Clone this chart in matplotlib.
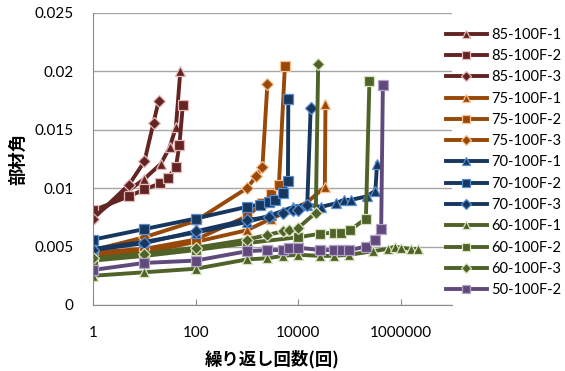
import matplotlib.pyplot as plt
from matplotlib.ticker import FixedLocator, FuncFormatter

# 試験体ごとの繰り返し回数と部材角
x_85_1 = [1, 10, 21, 31, 41, 50]
y_85_1 = [0.0076, 0.0108, 0.0121, 0.0135, 0.0152, 0.0200]
x_85_2 = [1, 5, 10, 20, 29, 41, 48, 56]
y_85_2 = [0.0081, 0.0093, 0.0099, 0.0104, 0.0109, 0.0118, 0.0137, 0.0171]
x_85_3 = [1, 5, 10, 15, 19]
y_85_3 = [0.0074, 0.0103, 0.0123, 0.0156, 0.0175]

x_75_1 = [1, 10, 100, 1000, 3000, 8000, 15000, 33000, 34000]
y_75_1 = [0.0043, 0.0045, 0.0054, 0.0064, 0.0074, 0.0082, 0.0088, 0.0101, 0.0172]
x_75_2 = [1, 10, 100, 1000, 2000, 3000, 4200, 5500]
y_75_2 = [0.0045, 0.0048, 0.0056, 0.0076, 0.0087, 0.0095, 0.0103, 0.0205]
x_75_3 = [1, 10, 100, 1000, 1500, 2000, 2500]
y_75_3 = [0.0047, 0.0058, 0.0072, 0.0100, 0.0110, 0.0118, 0.0189]

x_70_1 = [1, 10, 100, 1000, 3000, 8000, 15000, 28000, 54000, 77000, 107000, 220000, 320000, 345000]
y_70_1 = [0.0048, 0.0054, 0.0062, 0.0071, 0.0077, 0.0084, 0.0086, 0.0084, 0.0087, 0.0090, 0.0090, 0.0093, 0.0098, 0.0121]
x_70_2 = [1, 10, 100, 1000, 1800, 2700, 3600, 5100, 6300, 6400]
y_70_2 = [0.0056, 0.0065, 0.0074, 0.0084, 0.0086, 0.0088, 0.0090, 0.0096, 0.0106, 0.0176]
x_70_3 = [1, 10, 100, 1000, 2700, 5000, 8000, 10000, 15000, 17500]
y_70_3 = [0.0047, 0.0053, 0.0063, 0.0073, 0.0075, 0.0079, 0.0081, 0.0081, 0.0086, 0.0169]

x_60_1 = [1, 10, 100, 1000, 2500, 5000, 10000, 27000, 50000, 100000, 285000, 560000, 760000, 1020000, 1600000, 2200000]
y_60_1 = [0.0025, 0.0028, 0.0031, 0.0039, 0.0040, 0.0042, 0.0043, 0.0042, 0.0042, 0.0043, 0.0046, 0.0048, 0.0050, 0.0049, 0.0048, 0.0048]
x_60_2 = [1, 10, 100, 1000, 10000, 27000, 49000, 68000, 102000, 209000, 245000]
y_60_2 = [0.0038, 0.0042, 0.0047, 0.0053, 0.0058, 0.0061, 0.0062, 0.0062, 0.0064, 0.0074, 0.0192]
x_60_3 = [1, 10, 100, 1000, 2500, 5000, 6500, 10000, 22000, 24500]
y_60_3 = [0.0040, 0.0044, 0.0049, 0.0056, 0.0060, 0.0063, 0.0064, 0.0066, 0.0079, 0.0206]

x_50_2 = [1, 10, 100, 1000, 2500, 5000, 6500, 10000, 27000, 50000, 70000, 100000, 210000, 316000, 415000, 448000]
y_50_2 = [0.0030, 0.0036, 0.0038, 0.0046, 0.0047, 0.0047, 0.0049, 0.0049, 0.0047, 0.0047, 0.0047, 0.0047, 0.0050, 0.0056, 0.0065, 0.0188]

# (名前, x, y, 塗り/線色, マーカー縁色, マーカー)
series = [
    ('85-100F-1', x_85_1, y_85_1, '#632523', '#e6b9b8', '^'),
    ('85-100F-2', x_85_2, y_85_2, '#632523', '#e6b9b8', 's'),
    ('85-100F-3', x_85_3, y_85_3, '#632523', '#e6b9b8', 'D'),
    ('75-100F-1', x_75_1, y_75_1, '#984807', '#fac090', '^'),
    ('75-100F-2', x_75_2, y_75_2, '#984807', '#fac090', 's'),
    ('75-100F-3', x_75_3, y_75_3, '#984807', '#fac090', 'D'),
    ('70-100F-1', x_70_1, y_70_1, '#17375e', '#558ed5', '^'),
    ('70-100F-2', x_70_2, y_70_2, '#17375e', '#558ed5', 's'),
    ('70-100F-3', x_70_3, y_70_3, '#17375e', '#558ed5', 'D'),
    ('60-100F-1', x_60_1, y_60_1, '#4f6228', '#d7e4bd', '^'),
    ('60-100F-2', x_60_2, y_60_2, '#4f6228', '#d7e4bd', 's'),
    ('60-100F-3', x_60_3, y_60_3, '#4f6228', '#d7e4bd', 'D'),
    ('50-100F-2', x_50_2, y_50_2, '#604a7b', '#b3a2c7', 's'),
]

plt.rcParams['font.family'] = ['Lato', 'DejaVu Sans']

fig = plt.figure(figsize=(5.65, 3.71), dpi=100)
ax = fig.add_axes([0.165, 0.178, 0.635, 0.787])

for name, xs, ys, color, edge, marker in series:
    ms = 6 if marker == 'D' else 7.5
    ax.plot(xs, ys, color=color, linewidth=2.8, marker=marker, markersize=ms,
            markerfacecolor=color, markeredgecolor=edge, markeredgewidth=0.9,
            label=name)

ax.set_xscale('log')
ax.set_xlim(1, 1e7)
ax.set_ylim(0, 0.025)
ax.xaxis.set_major_locator(FixedLocator([1, 100, 10000, 1000000]))
ax.xaxis.set_minor_locator(FixedLocator([]))
ax.xaxis.set_major_formatter(FuncFormatter(lambda v, p: '%d' % v))
ax.set_yticks([0, 0.005, 0.01, 0.015, 0.02, 0.025])
ax.set_yticklabels(['0', '0.005', '0.01', '0.015', '0.02', '0.025'])

ax.grid(axis='y', color='#a6a6a6', linewidth=1)
ax.set_axisbelow(True)
for side in ['top', 'right']:
    ax.spines[side].set_visible(False)
for side in ['left', 'bottom']:
    ax.spines[side].set_color('#8c8c8c')
ax.tick_params(axis='x', direction='in', length=4, color='#8c8c8c', labelsize=11, pad=15)
ax.tick_params(axis='y', length=0, labelsize=11, pad=14)

jp = ['Noto Sans CJK JP', 'DejaVu Sans']
ax.set_xlabel('繰り返し回数(回)', family=jp, fontsize=12.5, fontweight='bold', labelpad=7)
ax.set_ylabel('部材角', family=jp, fontsize=12.5, fontweight='bold', labelpad=5)

leg = fig.legend(loc='center left', bbox_to_anchor=(0.776, 0.562), frameon=False,
                 fontsize=10.5, handlelength=2.8, handletextpad=0.3, labelspacing=0.5,
                 borderpad=0, markerscale=0.85)

fig.savefig('out.png', dpi=100)
